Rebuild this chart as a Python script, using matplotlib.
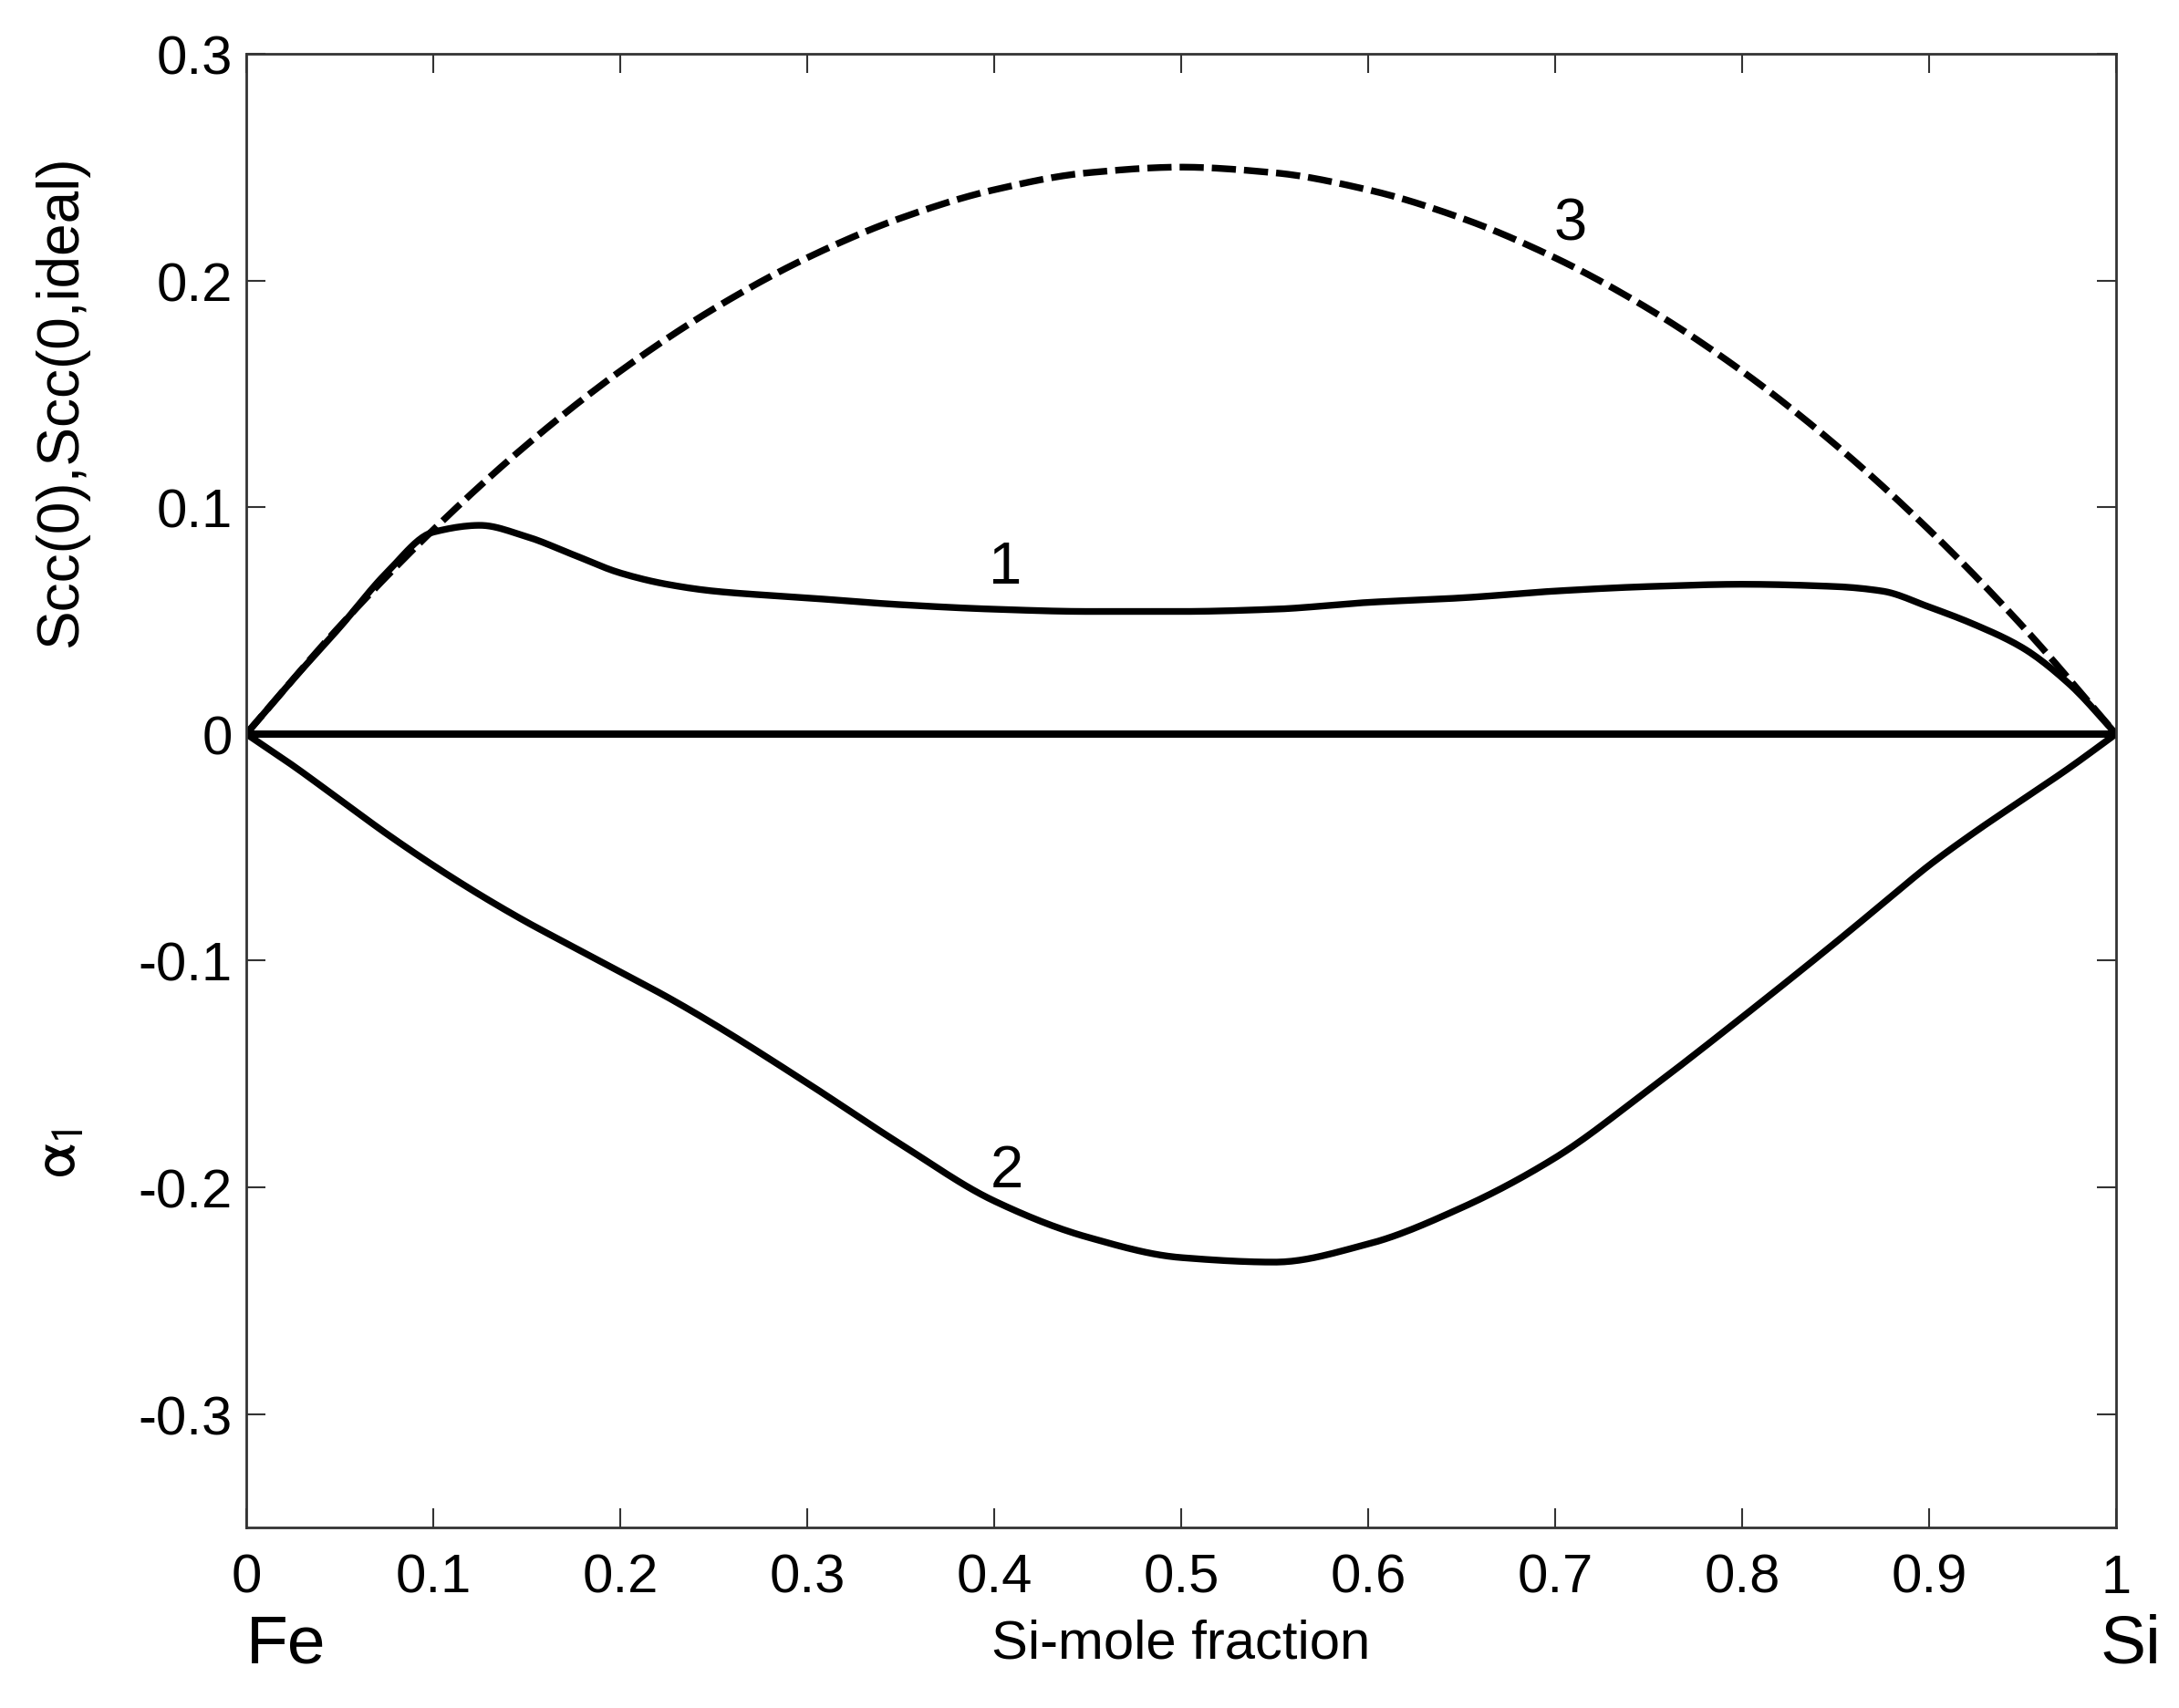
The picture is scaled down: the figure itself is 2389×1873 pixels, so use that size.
import matplotlib
matplotlib.use("Agg")
import matplotlib.pyplot as plt
import numpy as np

plt.rcParams['font.family'] = ['Liberation Sans', 'DejaVu Sans']
plt.rcParams['mathtext.fontset'] = 'stixsans'

# Si mole fraction
x = [0, 0.025, 0.05, 0.075, 0.1, 0.125, 0.15, 0.175, 0.2, 0.225, 0.25,
     0.3, 0.35, 0.4, 0.45, 0.5, 0.55, 0.6, 0.65, 0.7, 0.75, 0.8, 0.85,
     0.875, 0.9, 0.925, 0.95, 0.975, 1.0]

# curve 1 - Scc(0)
scc = [0, 0.024, 0.047, 0.071, 0.089, 0.092, 0.087, 0.079, 0.071, 0.066, 0.063,
       0.060, 0.057, 0.055, 0.054, 0.054, 0.055, 0.058, 0.060, 0.063, 0.065, 0.066, 0.065,
       0.063, 0.056, 0.048, 0.038, 0.022, 0]

# curve 2 - alpha_1
alpha1 = [0, -0.014, -0.029, -0.044, -0.058, -0.071, -0.083, -0.094, -0.105, -0.116, -0.128,
          -0.154, -0.181, -0.206, -0.222, -0.231, -0.233, -0.225, -0.209, -0.187, -0.157, -0.125, -0.092,
          -0.075, -0.058, -0.043, -0.029, -0.015, 0]

# curve 3 - Scc(0,ideal)
x_id = [0, 0.05, 0.1, 0.15, 0.2, 0.25, 0.3, 0.35, 0.4, 0.45, 0.5,
        0.55, 0.6, 0.65, 0.7, 0.75, 0.8, 0.85, 0.9, 0.95, 1.0]
scc_id = [0, 0.0475, 0.09, 0.1275, 0.16, 0.1875, 0.21, 0.2275, 0.24, 0.2475, 0.25,
          0.2475, 0.24, 0.2275, 0.21, 0.1875, 0.16, 0.1275, 0.09, 0.0475, 0]

xticks = [0, 0.1, 0.2, 0.3, 0.4, 0.5, 0.6, 0.7, 0.8, 0.9, 1]
xticklabels = ['0', '0.1', '0.2', '0.3', '0.4', '0.5', '0.6', '0.7', '0.8', '0.9', '1']
yticks = [-0.3, -0.2, -0.1, 0, 0.1, 0.2, 0.3]
yticklabels = ['-0.3', '-0.2', '-0.1', '0', '0.1', '0.2', '0.3']


def pchip(xs, ys, n=500):
    # monotone cubic through the read points, just for a smooth drawing
    xs = np.asarray(xs, float); ys = np.asarray(ys, float)
    h = np.diff(xs); d = np.diff(ys) / h
    m = np.zeros_like(ys)
    for i in range(1, len(xs) - 1):
        if d[i - 1] * d[i] > 0:
            w1 = 2 * h[i] + h[i - 1]; w2 = h[i] + 2 * h[i - 1]
            m[i] = (w1 + w2) / (w1 / d[i - 1] + w2 / d[i])
    m[0] = d[0]; m[-1] = d[-1]
    xf = np.linspace(xs[0], xs[-1], n)
    k = np.clip(np.searchsorted(xs, xf) - 1, 0, len(xs) - 2)
    t = (xf - xs[k]) / h[k]
    h00 = 2*t**3 - 3*t**2 + 1; h10 = t**3 - 2*t**2 + t
    h01 = -2*t**3 + 3*t**2; h11 = t**3 - t**2
    yf = h00*ys[k] + h10*h[k]*m[k] + h01*ys[k+1] + h11*h[k]*m[k+1]
    return xf, yf


fig = plt.figure(figsize=(23.89, 18.74), dpi=100)
ax = fig.add_axes([0.1130, 0.1057, 0.8581, 0.8623])

xs1, ys1 = pchip(x, scc)
xs2, ys2 = pchip(x, alpha1)
xs3, ys3 = pchip(x_id, scc_id)

ax.plot(xs3, ys3, color='black', lw=5.3, linestyle=(0, (3.6, 1.2)), solid_capstyle='butt')
ax.plot(xs1, ys1, color='black', lw=5.3)
ax.plot(xs2, ys2, color='black', lw=5.3)
ax.plot([0, 1], [0, 0], color='black', lw=5.8)

ax.set_xlim(0, 1)
ax.set_ylim(-0.35, 0.3)
ax.set_xticks(xticks)
ax.set_xticklabels(xticklabels)
ax.set_yticks(yticks)
ax.set_yticklabels(yticklabels)
ax.tick_params(direction='in', length=15, width=1.5, labelsize=43, top=True, right=True,
               color='#333333')
ax.tick_params(axis='x', pad=20)
ax.tick_params(axis='y', pad=11)
for s in ax.spines.values():
    s.set_linewidth(2)
    s.set_color('#333333')

ax.set_xlabel('Si-mole fraction', fontsize=43, labelpad=12)

ax.text(0.406, 0.0736, '1', fontsize=47, ha='center', va='center')
ax.text(0.407, -0.1926, '2', fontsize=47, ha='center', va='center')
ax.text(0.708, 0.225, '3', fontsize=47, ha='center', va='center')

tr = ax.get_xaxis_transform()
ax.text(0.0, -0.058, 'Fe', fontsize=54, ha='left', va='top', transform=tr)
ax.text(0.9917, -0.058, 'Si', fontsize=54, ha='left', va='top', transform=tr)

fig.text(0.028, 0.765, 'Scc(0),Scc(0,ideal)', fontsize=46, rotation=90, ha='center', va='center')
fig.text(0.027, 0.325, r'$\mathrm{\alpha}_1$', fontsize=50, rotation=90, ha='center', va='center')

fig.savefig('out.png', dpi=100)
